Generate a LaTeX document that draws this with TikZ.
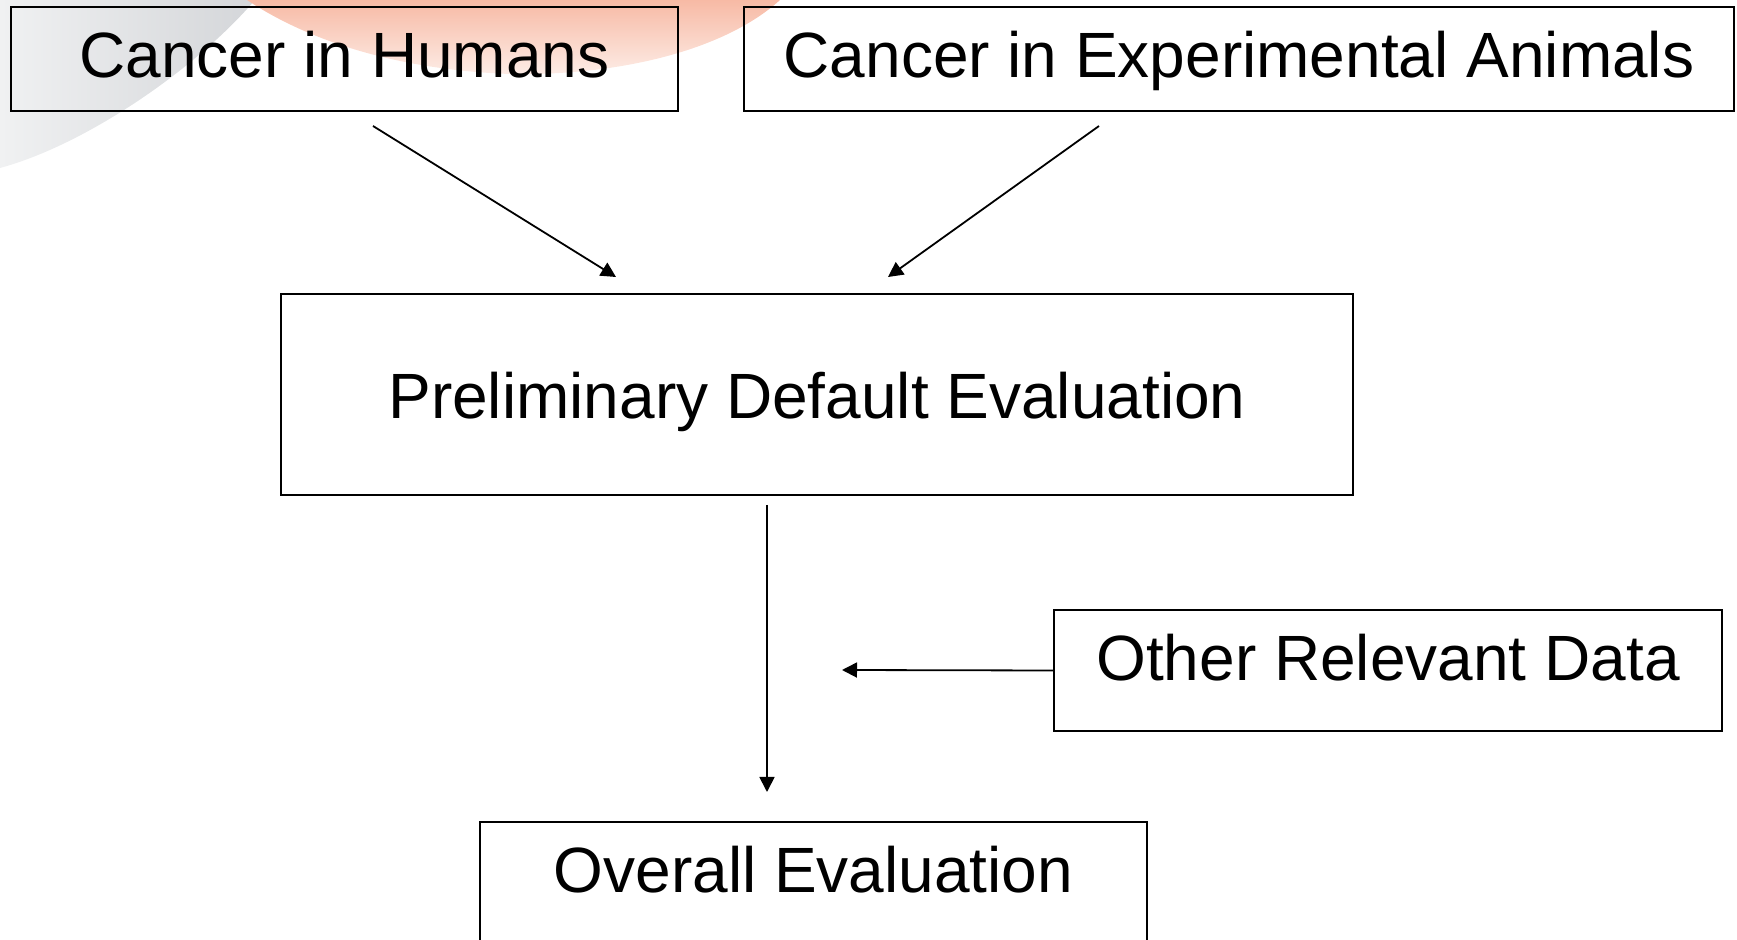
\documentclass[tikz,border=0pt]{standalone}
\usepackage{fontspec}
\setmainfont{Liberation Sans}
\usetikzlibrary{arrows.meta}
\definecolor{swgray}{RGB}{212,214,217}
\definecolor{swgraylt}{RGB}{240,241,242}
\definecolor{swred}{RGB}{247,186,165}
\definecolor{swpale}{RGB}{253,237,231}
\begin{document}
\begin{tikzpicture}[x=0.5pt,y=-0.5pt,
  box/.style={draw=black, line width=0.75pt, inner sep=0pt},
  lbl/.style={font=\fontsize{32}{38}\selectfont, inner sep=0pt, anchor=base},
  arr/.style={line width=0.9pt, -{Triangle[length=7.5pt,width=7.5pt]}}]
\useasboundingbox (0,0) rectangle (1737,940);
\clip (0,0) rectangle (1737,940);
% background swooshes
\shade[left color=swgraylt, right color=swgray]
  (0,0) -- (255,0) .. controls (195,70) and (85,145) .. (0,168) -- cycle;
\shade[top color=swred, bottom color=swpale]
  (247,0) -- (780,0) .. controls (725,50) and (620,76) .. (510,74)
  .. controls (400,70) and (310,42) .. (247,0) -- cycle;
% boxes
\node[box, minimum width=667pt*0.5, minimum height=104pt*0.5] (hum) at (344.5,59) {};
\node[lbl] at (344.5,78) {Cancer in Humans};
\node[box, minimum width=990pt*0.5, minimum height=104pt*0.5] (ani) at (1239,59) {};
\node[lbl] at (1239,78) {Cancer in Experimental Animals};
\node[box, minimum width=1072pt*0.5, minimum height=201pt*0.5] (pre) at (817,394.5) {};
\node[lbl] at (817,419) {Preliminary Default Evaluation};
\node[box, minimum width=668pt*0.5, minimum height=121pt*0.5] (oth) at (1388,670.5) {};
\node[lbl] at (1388,681) {Other Relevant Data};
\node[box, minimum width=667pt*0.5, minimum height=160pt*0.5] (ove) at (813.5,902) {};
\node[lbl] at (813.5,893) {Overall Evaluation};
% connector ends
\coordinate (a1) at (373,126);
\coordinate (a2) at (616,277);
\coordinate (b1) at (1099,126);
\coordinate (b2) at (888,277);
\coordinate (c1) at (767,505);
\coordinate (c2) at (767,792);
\coordinate (d2) at (842,670);
\draw[arr] (a1) -- (a2);
\draw[arr] (b1) -- (b2);
\draw[arr] (c1) -- (c2);
\draw[arr] (oth.west) -- (d2);
\end{tikzpicture}
\end{document}
